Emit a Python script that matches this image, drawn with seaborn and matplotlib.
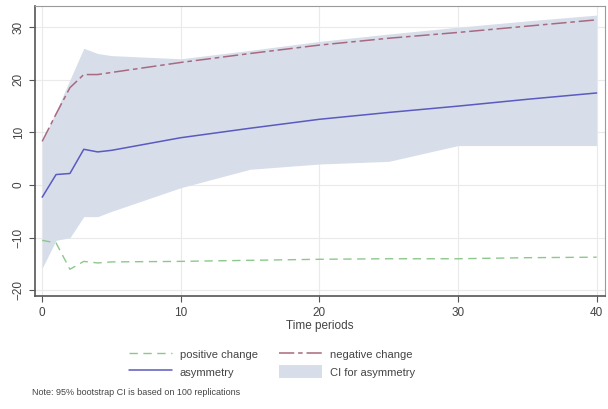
import pandas as pd
import seaborn as sns
import matplotlib.pyplot as plt
from matplotlib.patches import Patch
from matplotlib.lines import Line2D

periods = [0, 1, 2, 3, 4, 5, 10, 15, 20, 25, 30, 35, 40]
positive_change = [-10.5, -11.0, -16.0, -14.5, -14.8, -14.6, -14.5, -14.3, -14.1, -14.0, -14.0, -13.8, -13.7]
negative_change = [8.3, 13.5, 18.5, 21.0, 21.0, 21.4, 23.3, 25.0, 26.6, 27.9, 29.0, 30.2, 31.4]
asymmetry = [-2.3, 2.0, 2.2, 6.8, 6.3, 6.6, 9.0, 10.8, 12.5, 13.8, 15.0, 16.3, 17.5]
ci_lower = [-15.8, -10.5, -10.0, -6.0, -6.0, -5.0, -0.5, 3.0, 4.0, 4.5, 7.5, 7.5, 7.5]
ci_upper = [8.3, 14.0, 20.0, 26.0, 25.0, 24.6, 24.0, 25.6, 27.3, 28.7, 30.0, 31.2, 32.3]

data = pd.DataFrame({"period": periods, "pos": positive_change, "neg": negative_change,
                     "asym": asymmetry, "lo": ci_lower, "hi": ci_upper})

sns.set_style("white")
plt.rcParams['font.family'] = ['Liberation Sans', 'DejaVu Sans']

fig = plt.figure(figsize=(6.08, 4.09), dpi=100)
ax = fig.add_axes([0.058, 0.276, 0.937, 0.709])

fill_col = "#d7deea"
pos_col, neg_col, asym_col = "#8cc88c", "#a86a80", "#5a5ac0"
neg_dash = (10, 2.5, 3, 2.5)
ax.fill_between(data["period"], data["lo"], data["hi"], color=fill_col, lw=0, zorder=1)
sns.lineplot(data=data, x="period", y="pos", ax=ax, color=pos_col, lw=1, dashes=(6, 4), zorder=3)
sns.lineplot(data=data, x="period", y="neg", ax=ax, color=neg_col, lw=1.1, dashes=neg_dash, zorder=3)
sns.lineplot(data=data, x="period", y="asym", ax=ax, color=asym_col, lw=1.1, zorder=3)

ax.set_xlim(-0.5, 40.6)
ax.set_ylim(-21.1, 34)
ax.set_xticks([0, 10, 20, 30, 40])
ax.set_yticks([-20, -10, 0, 10, 20, 30])
ax.grid(True, color="#eaeaea", lw=0.8, zorder=0)
ax.set_axisbelow(True)
for s in ax.spines.values():
    s.set_color("#9a9a9a")
    s.set_linewidth(0.8)
ax.spines["bottom"].set_color("#555555")
ax.spines["bottom"].set_linewidth(1.2)
ax.spines["left"].set_color("#555555")
ax.spines["left"].set_linewidth(1.2)
ax.tick_params(axis="both", direction="out", length=4, width=0.8, color="#555555",
               labelsize=8.5, labelcolor="#444444", bottom=True, left=True)
for lab in ax.get_yticklabels():
    lab.set_rotation(90)
    lab.set_va("center")
ax.set_xlabel("Time periods", fontsize=8.5, color="#444444", labelpad=1)
ax.set_ylabel("")

# column-wise fill, so order gives rows: positive/negative, asymmetry/CI
handles = [Line2D([], [], color=pos_col, lw=1, dashes=(6, 4)),
           Line2D([], [], color=asym_col, lw=1.1),
           Line2D([], [], color=neg_col, lw=1.1, dashes=neg_dash),
           Patch(facecolor=fill_col, edgecolor="none")]
labels = ["positive change", "asymmetry", "negative change", "CI for asymmetry"]
leg = fig.legend(handles, labels, ncol=2, loc="center", bbox_to_anchor=(0.447, 0.112),
                 frameon=False, fontsize=8, handlelength=3.9, handleheight=1.4,
                 columnspacing=1.9, labelspacing=0.4, handletextpad=0.7)
for t in leg.get_texts():
    t.set_color("#444444")

fig.text(0.053, 0.035, "Note: 95% bootstrap CI is based on 100 replications",
         fontsize=6.5, color="#444444")

plt.savefig("out.png", dpi=100)
